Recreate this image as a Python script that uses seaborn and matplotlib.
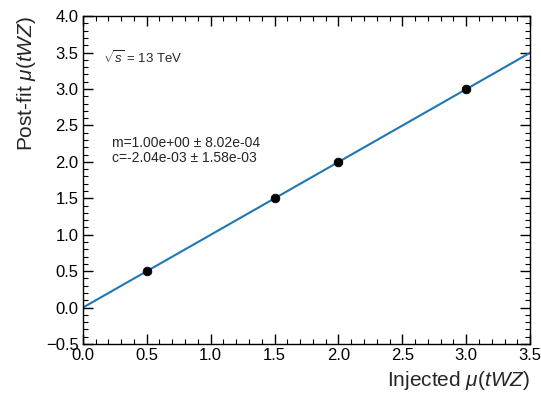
import numpy as np
import pandas as pd
import matplotlib
matplotlib.use("Agg")
import matplotlib.pyplot as plt
import seaborn as sns
from matplotlib.ticker import MultipleLocator

# Data
injected = [0.5, 1.5, 2.0, 3.0]
postfit = [0.5, 1.5, 2.0, 3.0]
fit_m = 1.00
fit_c = -2.04e-3
fit_x = [0.0, 3.5]
fit_text = ["m=1.00e+00 ± 8.02e-04", "c=-2.04e-03 ± 1.58e-03"]

sns.set_theme(style="ticks")
plt.rcParams['font.family'] = ['Liberation Sans', 'DejaVu Sans']
plt.rcParams['mathtext.fontset'] = 'custom'
plt.rcParams['mathtext.rm'] = 'Liberation Sans'
plt.rcParams['mathtext.it'] = 'Liberation Sans:italic'
plt.rcParams['mathtext.bf'] = 'Liberation Sans:bold'

fig = plt.figure(figsize=(5.41, 3.94), dpi=100)
ax = fig.add_axes([0.153, 0.127, 0.827, 0.832])

line_df = pd.DataFrame({"x": fit_x, "y": [fit_m * v + fit_c for v in fit_x]})
sns.lineplot(data=line_df, x="x", y="y", ax=ax, color="#1f77b4", lw=1.5)
pts = pd.DataFrame({"x": injected, "y": postfit})
sns.scatterplot(data=pts, x="x", y="y", ax=ax, color="black", s=40, edgecolor="black", zorder=3)

ax.set_xlim(0, 3.5)
ax.set_ylim(-0.5, 4.0)
ax.xaxis.set_major_locator(MultipleLocator(0.5))
ax.yaxis.set_major_locator(MultipleLocator(0.5))
ax.xaxis.set_minor_locator(MultipleLocator(0.1))
ax.yaxis.set_minor_locator(MultipleLocator(0.1))
ax.tick_params(which="both", direction="in", top=True, right=True, labelsize=12, colors="black")
ax.tick_params(which="major", length=7, width=1, pad=3)
ax.tick_params(which="minor", length=3.5, width=0.8)
for s in ax.spines.values():
    s.set_color("black")
    s.set_linewidth(1.0)

ax.set_xlabel(r"Injected $\mu(tWZ)$", fontsize=15, ha="right", x=1.0, labelpad=4)
ax.set_ylabel(r"Post-fit $\mu(tWZ)$", fontsize=15, ha="right", y=1.0, labelpad=6)

ax.text(0.045, 0.875, r"$\sqrt{s}$ = 13 TeV", transform=ax.transAxes, fontsize=9.5, va="center")
ax.text(0.065, 0.612, fit_text[0], transform=ax.transAxes, fontsize=10, va="center")
ax.text(0.065, 0.568, fit_text[1], transform=ax.transAxes, fontsize=10, va="center")

fig.savefig("out.png", dpi=100)
